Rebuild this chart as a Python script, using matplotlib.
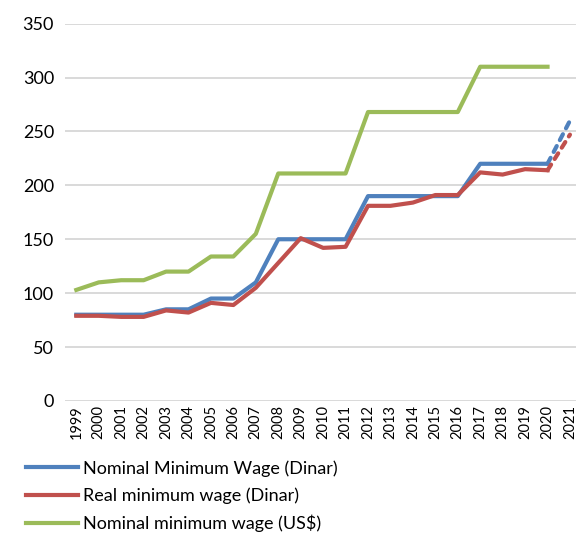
import matplotlib
matplotlib.use("Agg")
import matplotlib.pyplot as plt

plt.rcParams['font.family'] = ['Lato', 'DejaVu Sans']

years = [str(y) for y in range(1999, 2022)]

# Observed series (1999-2020)
nominal_dinar = [80, 80, 80, 80, 85, 85, 95, 95, 110, 150, 150, 150, 150,
                 190, 190, 190, 190, 190, 220, 220, 220, 220]
real_dinar = [79, 79, 78, 78, 84, 82, 91, 89, 105, 128, 151, 142, 143,
              181, 181, 184, 191, 191, 212, 210, 215, 214]
nominal_usd = [103, 110, 112, 112, 120, 120, 134, 134, 155, 211, 211, 211, 211,
               268, 268, 268, 268, 268, 310, 310, 310, 310]

# Projected 2021 values (drawn dashed from 2020)
nominal_dinar_2021 = 260
real_dinar_2021 = 247

labels = ["Nominal Minimum Wage (Dinar)", "Real minimum wage (Dinar)",
          "Nominal minimum wage (US$)"]
colors = ["#4F81BD", "#C0504D", "#9BBB59"]

fig = plt.figure(figsize=(5.76, 5.33), dpi=100)
ax = fig.add_axes([0.113, 0.2477, 0.896, 0.708])

x = list(range(len(years)))
n = len(nominal_dinar)
lw = 3.0

h1, = ax.plot(x[:n], nominal_dinar, color=colors[0], lw=lw, solid_joinstyle='round', zorder=3)
h2, = ax.plot(x[:n], real_dinar, color=colors[1], lw=lw, solid_joinstyle='round', zorder=4)
h3, = ax.plot(x[:n], nominal_usd, color=colors[2], lw=lw, solid_joinstyle='round', zorder=3)

ax.plot([x[n - 1], x[n]], [nominal_dinar[-1], nominal_dinar_2021], color=colors[0],
        lw=lw, linestyle=(0, (1.6, 1.6)), dash_capstyle='round', zorder=3)
ax.plot([x[n - 1], x[n]], [real_dinar[-1], real_dinar_2021], color=colors[1],
        lw=lw, linestyle=(0, (1.6, 1.6)), dash_capstyle='round', zorder=4)

ax.set_xlim(-0.5, len(years) - 0.5)
ax.set_ylim(0, 350)
ax.set_yticks(range(0, 351, 50))
ax.set_xticks(x)
ax.set_xticklabels(years, rotation=90, fontsize=10.5, color='#000000')
ax.tick_params(axis='y', labelsize=13, length=0, pad=8, colors='#000000')
ax.tick_params(axis='x', length=0, pad=3)

ax.grid(axis='y', color='#D9D9D9', lw=1.4)
ax.set_axisbelow(True)
for s in ax.spines.values():
    s.set_visible(False)

fig.legend([h1, h2, h3], labels, loc='upper left', bbox_to_anchor=(0.045, 0.137),
           frameon=False, fontsize=13, handlelength=2.9, handletextpad=0.28,
           labelspacing=0.6, borderaxespad=0, borderpad=0)

fig.savefig("out.png", dpi=100)
